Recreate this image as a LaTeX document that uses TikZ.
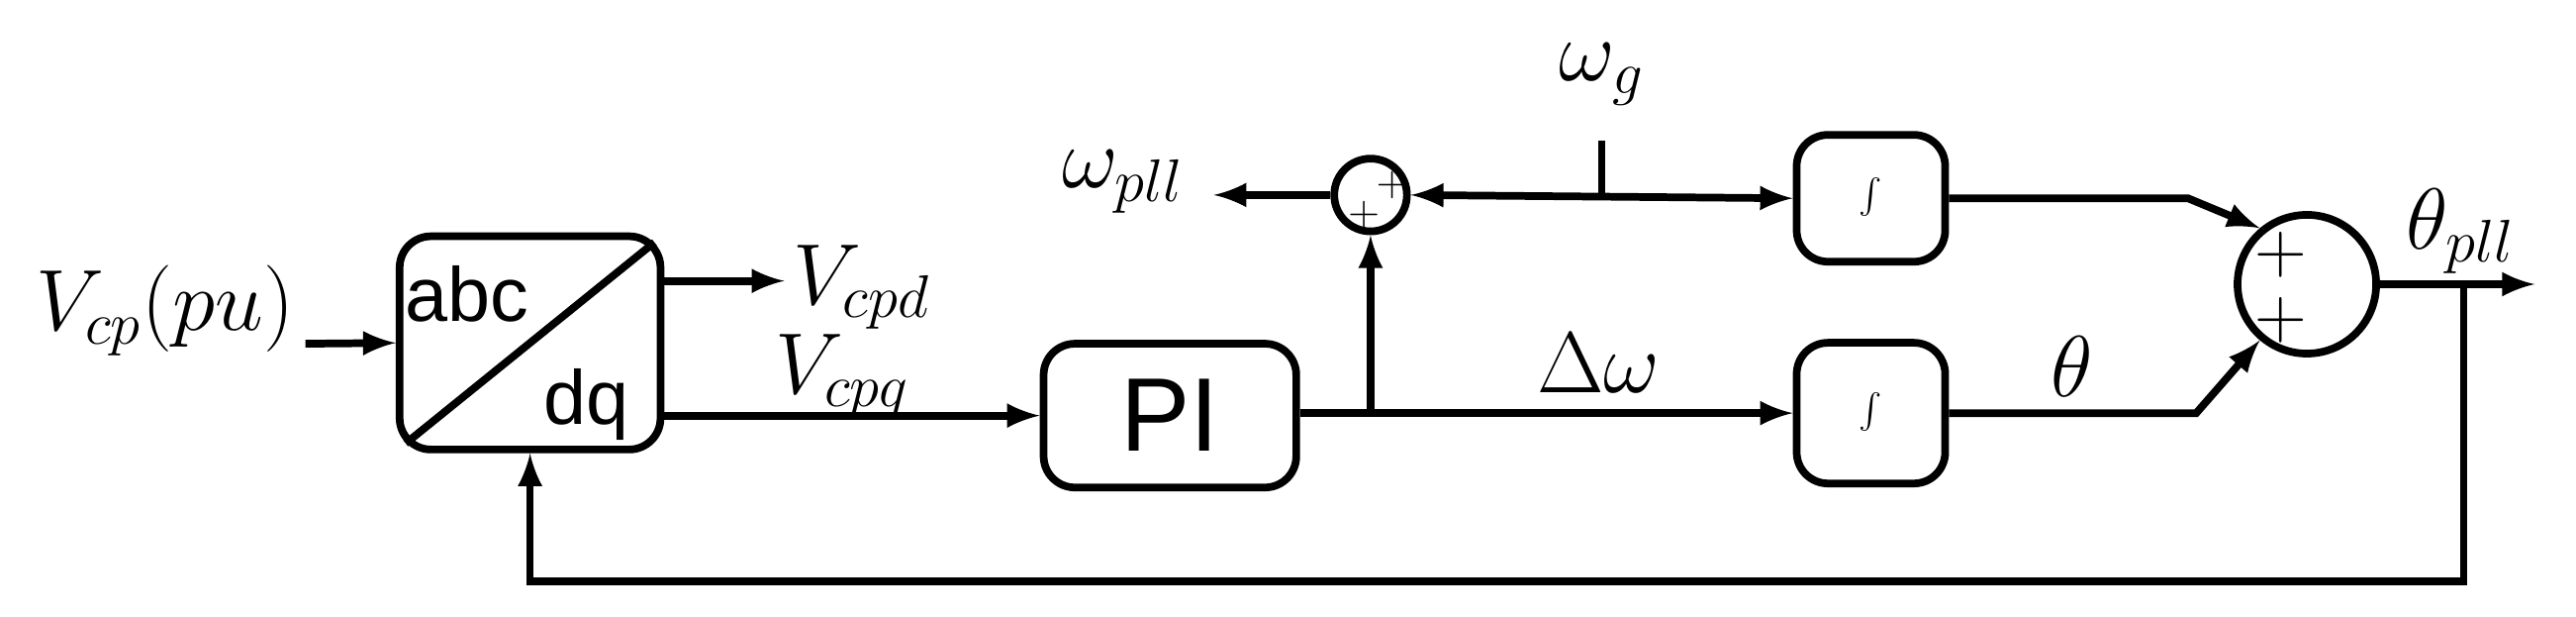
\documentclass[tikz,border=0pt]{standalone}
\usepackage{fontspec}
\newfontfamily\arialfont{Liberation Sans}
\usetikzlibrary{calc,positioning}
\tikzset{
  blk/.style={draw,line width=2.2pt,rounded corners=9pt,inner sep=0pt},
  sumc/.style={draw,line width=2.2pt,circle,inner sep=0pt},
  sig/.style={line width=2.2pt},
  lbl/.style={font=\fontsize{24}{28}\selectfont},
  sf/.style={font=\arialfont\fontsize{#1}{#1}\selectfont}
}
\begin{document}
\begin{tikzpicture}[x=0.01668cm,y=-0.01668cm,>=latex]
    \useasboundingbox (0,0) rectangle (1560,373);
    % blocks
    \node[blk,minimum width=2.635cm,minimum height=2.152cm] (park) at (321,207.5) {};
    \draw[sig] ($(park.south west)+(6,-6)$) -- ($(park.north east)+(-6,6)$);
    \node[sf=22] (abc) at (283,178) {abc};
    \node[sf=22] (dq) at (355,245) {dq};
    \node[blk,sf=30,minimum width=2.552cm,minimum height=1.451cm] (pi) at (708.5,251.5) {PI};
    \node[blk,font=\fontsize{34}{40}\selectfont,minimum width=1.5cm,minimum height=1.28cm] (int1) at (1133,120) {$\int$};
    \node[blk,font=\fontsize{34}{40}\selectfont,minimum width=1.5cm,minimum height=1.42cm] (int2) at (1133,250) {$\int$};
    \node[sumc,minimum size=0.734cm] (sum1) at (830,118) {};
    \node[font=\fontsize{12}{14}\selectfont,inner sep=0pt] (p1) at (843,112) {$+$};
    \node[font=\fontsize{12}{14}\selectfont,inner sep=0pt] (p2) at (826,130) {$+$};
    \node[sumc,minimum size=1.40cm] (sum2) at (1397,172) {};
    \node[font=\fontsize{20}{24}\selectfont,inner sep=0pt] (p3) at (1381,154) {$+$};
    \node[font=\fontsize{20}{24}\selectfont,inner sep=0pt] (p4) at (1381,194) {$+$};
    % labels
    \node[lbl] (vin) at (100,188) {$V_{cp}(pu)$};
    \node[lbl] (vd) at (522,174) {$V_{cpd}$};
    \node[lbl] (vq) at (510,228) {$V_{cpq}$};
    \node[lbl] (dw) at (968,220) {$\Delta\omega$};
    \node[lbl] (wpll) at (680,110) {$\omega_{pll}$};
    \node[lbl] (wg) at (970,45) {$\omega_g$};
    \node[lbl] (th) at (1255,222) {$\theta$};
    \node[lbl] (thpll) at (1490,140) {$\theta_{pll}$};
    % connectors
    \coordinate (inS) at (185,208);
    \coordinate (vdE) at (475,170);
    \coordinate (wplE) at (735,118);
    \coordinate (wgT) at (970,85);
    \coordinate (wgJ) at (970,120);
    \coordinate (br) at (830,250);
    \coordinate (fb) at (1492,172);
    \coordinate (outE) at (1535,172);
    \draw[sig,->] (inS) -- (park.west);
    \draw[sig,->] (park.east |- vdE) -- (vdE);
    \draw[sig,->] (park.east |- pi.west) -- (pi.west);
    \draw[sig,->] (pi.east |- int2.west) -- (int2.west);
    \draw[sig,->] (br) -- (sum1.south);
    \draw[sig,->] (sum1.west) -- (wplE);
    \draw[sig] (wgT) -- (wgJ);
    \draw[sig,<->] (sum1.east) -- (int1.west);
    \draw[sig,->] (int1.east) -- (1325,120) -- (sum2.130);
    \draw[sig,->] (int2.east) -- (1330,250) -- (sum2.230);
    \draw[sig,->] (sum2.east) -- (outE);
    \draw[sig,->] (fb) -- (fb |- 0,352) -- (park.south |- 0,352) -- (park.south);
\end{tikzpicture}
\end{document}
